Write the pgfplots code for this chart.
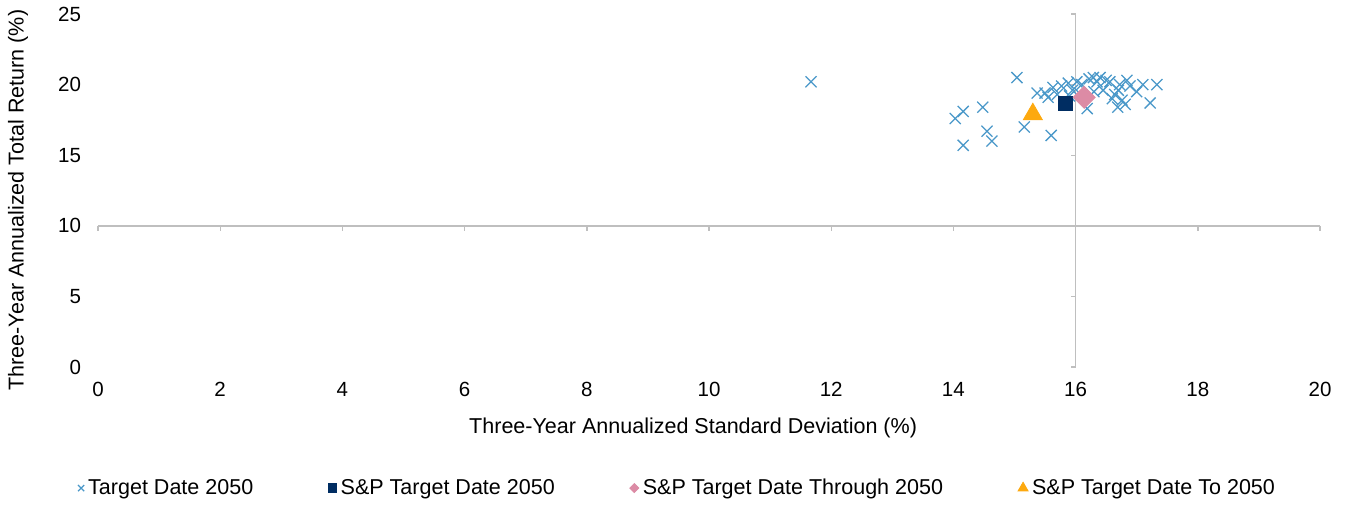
\documentclass[border=0pt]{standalone}
\usepackage{pgfplots}
\pgfplotsset{compat=1.18}
\usepackage{fontspec}
\setmainfont{Liberation Sans}

\definecolor{crossblue}{HTML}{4A98C9}
\definecolor{spnavy}{HTML}{002D62}
\definecolor{sppink}{HTML}{DC8BA5}
\definecolor{sporange}{HTML}{FDA90F}
\definecolor{axisgray}{HTML}{BFBFBF}

\begin{document}
\begin{tikzpicture}
\begin{axis}[
    scale only axis,
    width=611bp,
    height=176.5bp,
    xmin=0, xmax=20,
    ymin=0, ymax=25,
    xtick={0,2,...,20},
    ytick={0,5,...,25},
    axis line style={draw=none},
    major tick length=0pt,
    font=\fontsize{10.3}{12}\selectfont,
    /pgf/number format/assume math mode=true,
    xticklabel style={yshift=-4bp},
    yticklabel style={xshift=-5bp},
    xlabel={Three-Year Annualized Standard Deviation (\%)},
    ylabel={Three-Year Annualized Total Return (\%)},
    label style={font=\fontsize{10.8}{13}\selectfont},
    xlabel style={at={(axis description cs:0.487,-0.173)}, anchor=center},
    ylabel style={at={(axis description cs:-0.0655,0.473)}, anchor=center},
    clip=false,
    legend columns=4,
    legend style={draw=none, at={(axis description cs:0.475,-0.343)}, anchor=center,
        font=\fontsize{10.8}{13}\selectfont,
        /tikz/every even column/.append style={column sep=35.5bp}},
]
% axis lines crossing at (16,10)
\draw[axisgray, line width=0.7bp] (axis cs:0,10) -- (axis cs:20,10);
\draw[axisgray, line width=0.7bp] (axis cs:16,0) -- (axis cs:16,25);
\pgfplotsinvokeforeach{0,2,...,20}{
  \draw[axisgray, line width=0.7bp] (axis cs:#1,10) -- ++(0,-2.5bp);
}
\pgfplotsinvokeforeach{0,5,...,25}{
  \draw[axisgray, line width=0.7bp] (axis cs:16,#1) -- ++(-2.5bp,0);
}

\addplot[only marks, mark=x, mark size=3.9bp, crossblue, line width=0.65bp,
    legend image post style={mark size=2.2bp}] coordinates {
    (11.67,20.2) (15.04,20.5) (14.03,17.6) (14.16,18.1) (14.48,18.4)
    (14.55,16.7) (14.63,16.0) (14.16,15.7) (15.16,17.0) (15.60,16.4)
    (15.37,19.4) (15.50,19.4) (15.55,19.1) (15.63,19.8) (15.77,19.9)
    (15.70,19.3) (15.88,20.1) (15.95,19.6) (16.02,20.2) (16.10,20.0)
    (16.06,19.4) (16.19,18.3) (16.22,20.4) (16.29,20.5) (16.35,20.2)
    (16.40,20.5) (16.45,19.6) (16.50,20.3) (16.56,20.2) (16.60,19.0)
    (16.64,19.3) (16.72,20.0) (16.70,19.6) (16.81,18.6) (16.69,18.4)
    (16.89,19.9) (16.84,20.3) (17.00,19.5) (17.10,20.0) (17.33,20.0)
    (17.22,18.7) (16.30,19.5) (15.90,19.2) (16.76,18.9)
};
\addlegendentry{Target Date 2050}
\addplot[only marks, mark=square*, mark size=3.5bp, spnavy,
    legend image post style={mark size=2.1bp}] coordinates {
    (15.84,18.65)
};
\addlegendentry{S\&P Target Date 2050}
\addplot[only marks, mark=square*, mark size=3.9bp, sppink,
    mark options={rotate=45},
    legend image post style={mark size=1.6bp}] coordinates {
    (16.14,19.1)
};
\addlegendentry{S\&P Target Date Through 2050}
\addplot[only marks, mark=triangle*, mark size=5.5bp, sporange,
    legend image post style={mark size=2.9bp}] coordinates {
    (15.30,17.9)
};
\addlegendentry{S\&P Target Date To 2050}
\end{axis}
\pgfresetboundingbox
\path[use as bounding box] ([shift={(-49bp,-69.5bp)}]current axis.south west)
    rectangle ([shift={(13bp,7bp)}]current axis.north east);
\end{tikzpicture}
\end{document}
